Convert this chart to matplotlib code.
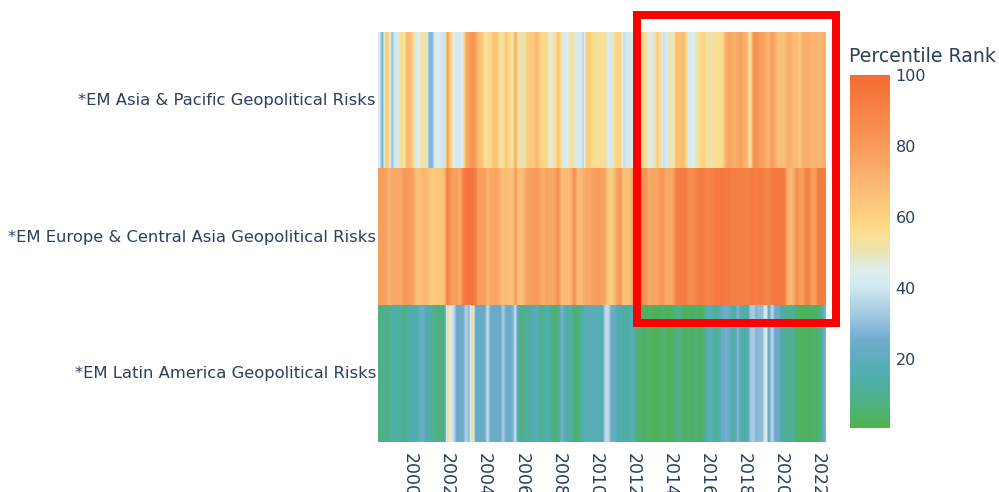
import numpy as np
import matplotlib
matplotlib.use("Agg")
import matplotlib.pyplot as plt
from matplotlib.colors import LinearSegmentedColormap, Normalize
from matplotlib.patches import Rectangle
from matplotlib.cm import ScalarMappable
from matplotlib.transforms import ScaledTranslation

categories = ["*EM Asia & Pacific Geopolitical Risks",
              "*EM Europe & Central Asia Geopolitical Risks",
              "*EM Latin America Geopolitical Risks"]
tick_years = [2000, 2002, 2004, 2006, 2008, 2010, 2012, 2014, 2016, 2018, 2020, 2022]
first_year = 1998.27
periods_per_year = 6

asia = [42,25,62,58,30,42,42,58,52,70,66,55,42,48,53,53,28,28,44,44,42,38,78,62,44,42,42,45,75,76,
        84,78,68,66,55,55,57,65,64,53,53,64,56,52,72,52,50,52,63,63,63,70,60,58,58,47,47,56,66,48,
        43,46,52,50,42,42,36,62,62,56,54,54,54,54,44,41,55,60,58,38,41,41,45,50,52,58,56,46,46,48,
        62,52,38,44,52,46,66,64,68,62,43,43,46,52,58,60,52,50,54,55,55,56,72,76,74,72,76,78,72,70,
        50,82,84,78,78,74,70,80,74,66,66,66,72,72,68,68,62,72,72,72,70,70,70,70,72]
europe = [78,78,78,70,74,74,74,76,82,80,80,76,66,66,68,70,66,62,62,64,64,68,92,82,78,80,72,90,96,96,
          96,92,78,78,78,70,76,76,76,72,66,68,66,66,80,66,66,72,78,78,80,80,76,72,76,75,74,80,84,66,
          68,68,70,86,70,68,72,74,74,78,78,80,76,76,62,60,68,78,80,66,66,68,78,78,80,85,85,74,76,76,
          76,80,80,74,74,76,90,92,92,94,86,84,88,90,94,92,90,90,92,94,94,95,93,95,92,92,90,92,90,90,
          92,94,92,94,93,90,88,94,94,95,94,94,72,68,72,85,78,78,90,90,78,78,92,94,92]
latam = [8,8,10,8,14,14,12,14,6,14,16,16,16,20,26,14,16,12,8,8,8,8,60,42,38,24,24,24,36,28,
         62,24,22,22,24,38,24,24,24,24,34,24,24,26,38,12,8,10,12,14,18,18,10,10,16,14,8,6,8,28,
         18,14,16,5,5,10,16,18,18,18,18,18,17,36,38,24,22,16,16,12,14,14,20,6,6,4,3,5,3,2,
         4,3,6,2,2,4,8,10,4,3,5,3,6,4,3,5,18,20,12,12,14,24,26,24,14,14,30,14,14,14,32,34,
         28,30,30,48,20,38,24,26,14,12,10,10,12,4,4,3,4,3,4,4,4,10,26]

colorbar_title = "Percentile Rank"
colorbar_ticks = [20, 40, 60, 80, 100]
z_min, z_max = 0.5, 100

stop_values = [0.5, 8, 15, 25, 30, 40, 45, 50, 55, 60, 70, 80, 100]
stop_colors = ["#4DB34C", "#4FB086", "#4FAFAE", "#6FABCC", "#92BEDC", "#CFE7F0", "#DFEEEC",
               "#EBE4B4", "#FBDF92", "#FCD27F", "#FBB672", "#F89A58", "#F46C34"]

W, H = 999, 492
TEXT = "#2a3f5f"
plt.rcParams["font.family"] = ["DejaVu Sans"]

def box(x0, y0, x1, y1):
    return [x0 / W, 1 - y1 / H, (x1 - x0) / W, (y1 - y0) / H]

fig = plt.figure(figsize=(W / 100, H / 100), dpi=100, facecolor="white")
ax = fig.add_axes(box(378, 32, 826, 442))

stops = [(v - z_min) / (z_max - z_min) for v in stop_values]
cmap = LinearSegmentedColormap.from_list("rank", list(zip(stops, stop_colors)), N=512)
norm = Normalize(z_min, z_max)

rows = [asia, europe, latam]
x_end = first_year + len(asia) / periods_per_year
for r, values in enumerate(rows):
    ax.imshow(np.array([values], dtype=float), cmap=cmap, norm=norm, aspect="auto",
              interpolation="bilinear", extent=(first_year, x_end, r + 0.5, r - 0.5))
ax.set_ylim(2.5, -0.5)
ax.set_xlim(first_year, x_end)
ax.set_yticks(range(3), categories, fontsize=11.8, color=TEXT)
ax.set_xticks(tick_years, [str(y) for y in tick_years], rotation=270, fontsize=12.5, color=TEXT)
ax.tick_params(axis="y", length=0, pad=1.5)
ax.tick_params(axis="x", length=0, pad=8)
shift = ScaledTranslation(0, 1 / 72, fig.dpi_scale_trans)
for lab in ax.get_yticklabels():
    lab.set_transform(lab.get_transform() + shift)
for s in ax.spines.values():
    s.set_visible(False)

cax = fig.add_axes(box(850, 75, 890, 428))
cb = fig.colorbar(ScalarMappable(norm=norm, cmap=cmap), cax=cax)
cb.outline.set_visible(False)
cb.set_ticks(colorbar_ticks, labels=[str(t) for t in colorbar_ticks], fontsize=11.5, color=TEXT)
cb.ax.tick_params(length=0, pad=4)
fig.text(849 / W, 1 - 57 / H, colorbar_title, fontsize=13.6, color=TEXT, ha="left", va="center")

fig.add_artist(Rectangle((637 / W, 1 - 322.5 / H), 199 / W, 307.5 / H, transform=fig.transFigure,
                         fill=False, edgecolor="#ff0000", linewidth=8 * 72 / 100, zorder=10))

fig.savefig("out.png", dpi=100)
